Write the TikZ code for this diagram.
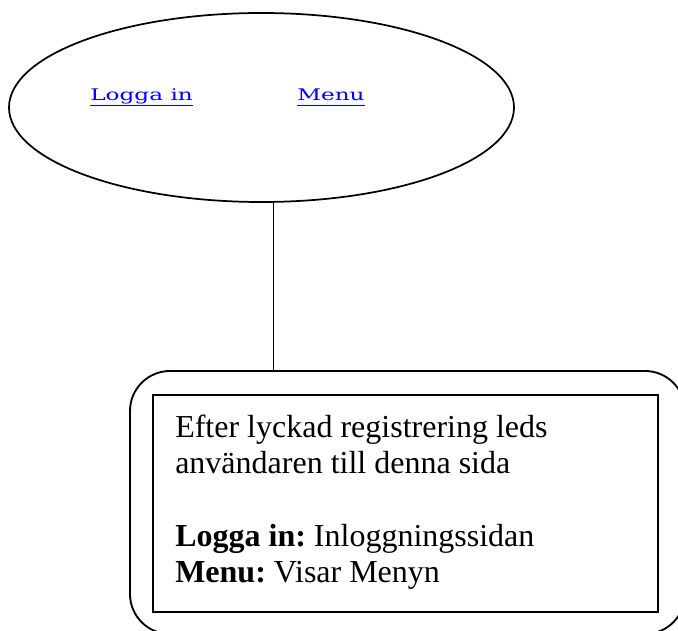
\documentclass[tikz,border=0pt]{standalone}
\usepackage{fontspec}
\setmainfont{Liberation Serif}
\newfontfamily\linkfont{DejaVu Serif}
\usetikzlibrary{shapes.geometric}
\definecolor{linkblue}{RGB}{0,0,255}
\frenchspacing

\tikzset{
  page/.style={x=0.75pt,y=-0.75pt},
  startpage/.style={draw,line width=1.3pt,ellipse,inner sep=0pt,
    minimum width=378.75pt,minimum height=141.75pt},
  infobox/.style={draw,line width=1.4pt,rounded corners=30pt,inner sep=0pt,
    minimum width=416.25pt,minimum height=197.25pt},
  notebox/.style={draw,line width=1.2pt,inner sep=0pt,
    minimum width=378.75pt,minimum height=162.75pt},
  link/.style={text=linkblue,inner sep=0pt,anchor=base west,
    font=\linkfont\fontsize{12pt}{14pt}\selectfont},
  underline/.style={linkblue,line width=1pt},
  notetext/.style={inner sep=0pt,anchor=base west,
    font=\fontsize{24pt}{27.6pt}\selectfont},
  connector/.style={line width=1.1pt}
}

\begin{document}
\begin{tikzpicture}[page]
  \useasboundingbox (0,0) rectangle (678,631);
  \clip (0,0) rectangle (678,631);

  % start page with its two links
  \node[startpage] (start) at (261.5,107.5) {};
  \node[link] (login) at (90,101) {\scalebox{1.45}[1]{Logga in}};
  \node[link] (menu) at (297,101) {\scalebox{1.45}[1]{Menu}};
  \draw[underline] ([yshift=-3.4pt]login.base west) -- ([yshift=-3.4pt]login.base east);
  \draw[underline] ([yshift=-3.4pt]menu.base west) -- ([yshift=-3.4pt]menu.base east);

  % description box
  \node[infobox] (info) at (407.5,502.5) {};
  \node[notebox] (note) at (405.5,503.5) {};
  \node[notetext] (l1) at (175,437) {Efter lyckad registrering leds};
  \node[notetext] (l2) at (175,473.3) {användaren till denna sida};
  \node[notetext] (l3) at (175,546) {\textbf{Logga in:} Inloggningssidan};
  \node[notetext] (l4) at (175,582.3) {\textbf{Menu:} Visar Menyn};

  % connector
  \coordinate (drop) at (273.5,0);
  \draw[connector] (drop |- start.south) -- (drop |- info.north);
\end{tikzpicture}
\end{document}
